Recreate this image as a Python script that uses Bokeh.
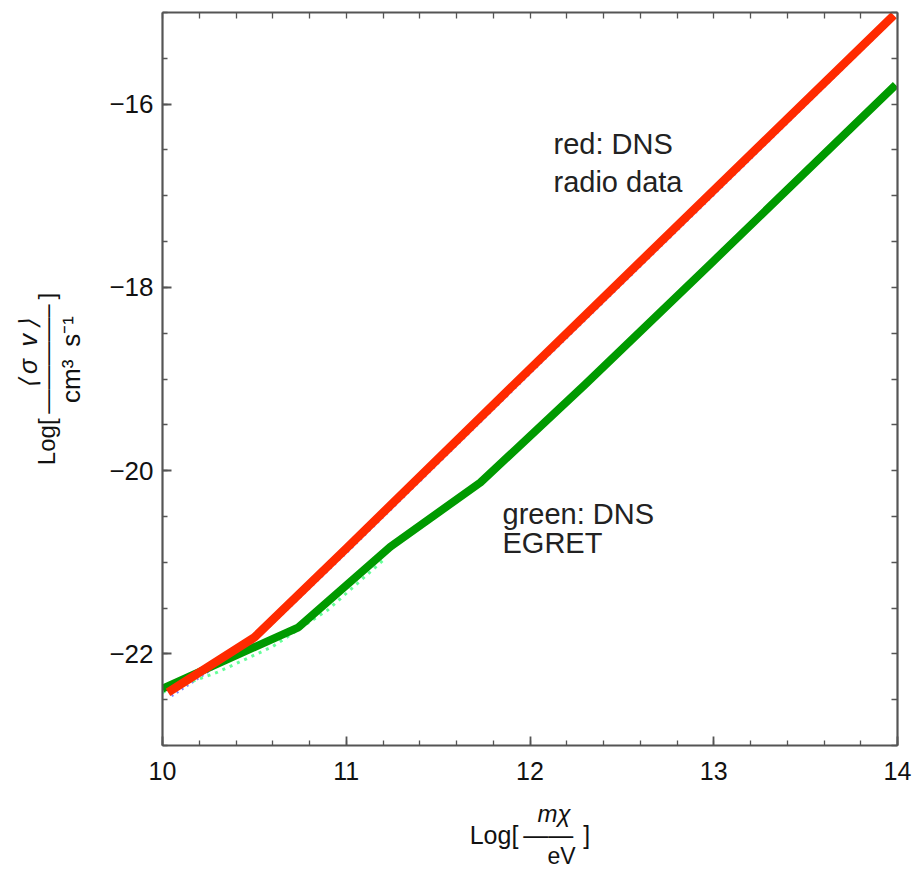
import numpy as np
from bokeh.plotting import figure
from bokeh.models import (Range1d, LinearAxis, SingleIntervalTicker, FixedTicker,
                          Label, CustomJSTickFormatter)
from bokeh.embed import file_html
from bokeh.resources import INLINE

# ---------------- data ----------------
red_x = [10.03, 10.5, 11.0, 12.0, 13.0, 13.98]
red_y = [-22.42, -21.82, -20.85, -18.89, -16.94, -15.03]

blue_dot_x = [10.05, 10.5, 11.0, 12.0, 13.0, 13.98]
blue_dot_y = [-22.46, -21.86, -20.9, -18.94, -16.99, -15.07]

green_x = [10.0, 10.74, 11.24, 11.73, 12.3, 13.0, 13.99]
green_y = [-22.38, -21.71, -20.83, -20.13, -19.06, -17.71, -15.79]

green_dot_x = [10.0, 10.3, 10.6, 10.9, 11.2]
green_dot_y = [-22.42, -22.2, -21.92, -21.52, -20.98]

x_range = (10, 14)
y_range = (-23, -15)
x_major = 1
y_major = 2

RED = "#ff2a00"
GREEN = "#009a00"
FONT = "Liberation Sans"
AX = "#555555"
EM = "\u2003"
EN = "\u2002"
QS = "\u2005"
TH = "\u2009"

W, H = 914, 875
L, R, T, B = 162, 17, 12, 130

p = figure(width=W, height=H, output_backend="svg", toolbar_location=None,
           x_range=Range1d(*x_range), y_range=Range1d(*y_range),
           x_axis_location=None, y_axis_location=None,
           min_border_left=L, min_border_right=R, min_border_top=T,
           min_border_bottom=B)
p.outline_line_color = None
p.grid.visible = False
p.background_fill_color = "white"
p.border_fill_color = "white"

fmt = CustomJSTickFormatter(code="return tick < 0 ? '\u2212' + Math.abs(tick) : '' + tick;")


def frame_axis(ax):
    ax.axis_line_color = AX
    ax.axis_line_width = 2.2
    ax.major_tick_line_color = AX
    ax.minor_tick_line_color = AX
    ax.major_tick_line_width = 1.8
    ax.minor_tick_line_width = 1.3
    ax.major_tick_in = 9
    ax.major_tick_out = 0
    ax.minor_tick_in = 5
    ax.minor_tick_out = 0


# main axes with labels
xb = LinearAxis(ticker=SingleIntervalTicker(interval=x_major, num_minor_ticks=5),
                formatter=fmt)
frame_axis(xb)
xb.major_label_text_font = FONT
xb.major_label_text_font_size = "25px"
xb.major_label_text_color = "#111111"
xb.major_label_standoff = 16
yl = LinearAxis(ticker=SingleIntervalTicker(interval=y_major, num_minor_ticks=4),
                formatter=fmt)
frame_axis(yl)
yl.major_label_text_font = FONT
yl.major_label_text_font_size = "26px"
yl.major_label_text_color = "#111111"
yl.major_label_standoff = 9

# top / right frame axes: ticks only, no labels
top_ticks = list(np.arange(x_range[0], x_range[1] + 1e-9, x_major / 5.0))
right_ticks = list(np.arange(y_range[0], y_range[1] + 1e-9, y_major / 4.0))
xa = LinearAxis(ticker=FixedTicker(ticks=[], minor_ticks=top_ticks))
frame_axis(xa)
xa.minor_tick_in = 6
yr = LinearAxis(ticker=FixedTicker(ticks=[], minor_ticks=right_ticks))
frame_axis(yr)
yr.minor_tick_in = 6

p.add_layout(xb, "below")
p.add_layout(xa, "above")
p.add_layout(yl, "left")
p.add_layout(yr, "right")


def label_axis(text, size, standoff, style="normal"):
    ax = LinearAxis(ticker=FixedTicker(ticks=[], minor_ticks=[]))
    ax.axis_line_color = None
    ax.major_tick_line_color = None
    ax.minor_tick_line_color = None
    ax.major_tick_in = 0
    ax.major_tick_out = 0
    ax.minor_tick_in = 0
    ax.minor_tick_out = 0
    ax.major_label_standoff = 0
    ax.axis_label = text
    ax.axis_label_text_font = FONT
    ax.axis_label_text_font_size = f"{size}px"
    ax.axis_label_text_font_style = style
    ax.axis_label_text_color = "#111111"
    ax.axis_label_standoff = standoff
    return ax


# x-axis label:  Log[ m_chi / eV ]  built from stacked label rows
p.add_layout(label_axis(EM + EM + "m\u03c7", 24, 17, "italic"), "below")
p.add_layout(label_axis("Log[" + TH + "\u2014\u2014" + TH + TH + "]", 25, -9), "below")
p.add_layout(label_axis(EM + EM + EN + QS + "eV", 23, -9), "below")

# y-axis label:  Log[ <sigma v> / cm^3 s^-1 ]  (rotated rows)
p.add_layout(label_axis(EM + EN + "cm\u00b3" + EN + "s\u207b\u00b9", 26, 21), "left")
p.add_layout(label_axis("Log[" + TH + "\u2014\u2014\u2014\u2014\u2013" + TH + "]", 24, -7), "left")
p.add_layout(label_axis(EM + EM + "\u27e8" + TH + "\u03c3" + EN + "v" + TH + "\u27e9", 25, -12,
                        "italic"), "left")

# dotted underlying curves
p.line(blue_dot_x, blue_dot_y, line_color="#7f86ff", line_width=2.5,
       line_dash="2 4")
p.line(green_dot_x, green_dot_y, line_color="#66ff99", line_width=3,
       line_dash="3 5")
# main curves
p.line(green_x, green_y, line_color=GREEN, line_width=8, line_join="round")
p.line(red_x, red_y, line_color=RED, line_width=8.5, line_join="round")

# ------------- in-plot texts (pixel -> data helpers) -------------
FW = W - L - R
FH = H - T - B


def X(px):
    return x_range[0] + (px - L) * (x_range[1] - x_range[0]) / FW


def Y(py):
    return y_range[1] - (py - T) * (y_range[1] - y_range[0]) / FH


def lab(text, px, py, size):
    p.add_layout(Label(x=X(px), y=Y(py), x_units="data", y_units="data",
                       text=text, text_font=FONT, text_font_size=f"{size}px",
                       text_align="left", text_baseline="alphabetic",
                       text_color="#222222"))


lab("red: DNS", 553, 143, 29)
lab("radio data", 553, 181, 29)
lab("green: DNS", 502, 513, 29)
lab("EGRET", 502, 542, 29)

open("out.html", "w").write(file_html(p, INLINE))
